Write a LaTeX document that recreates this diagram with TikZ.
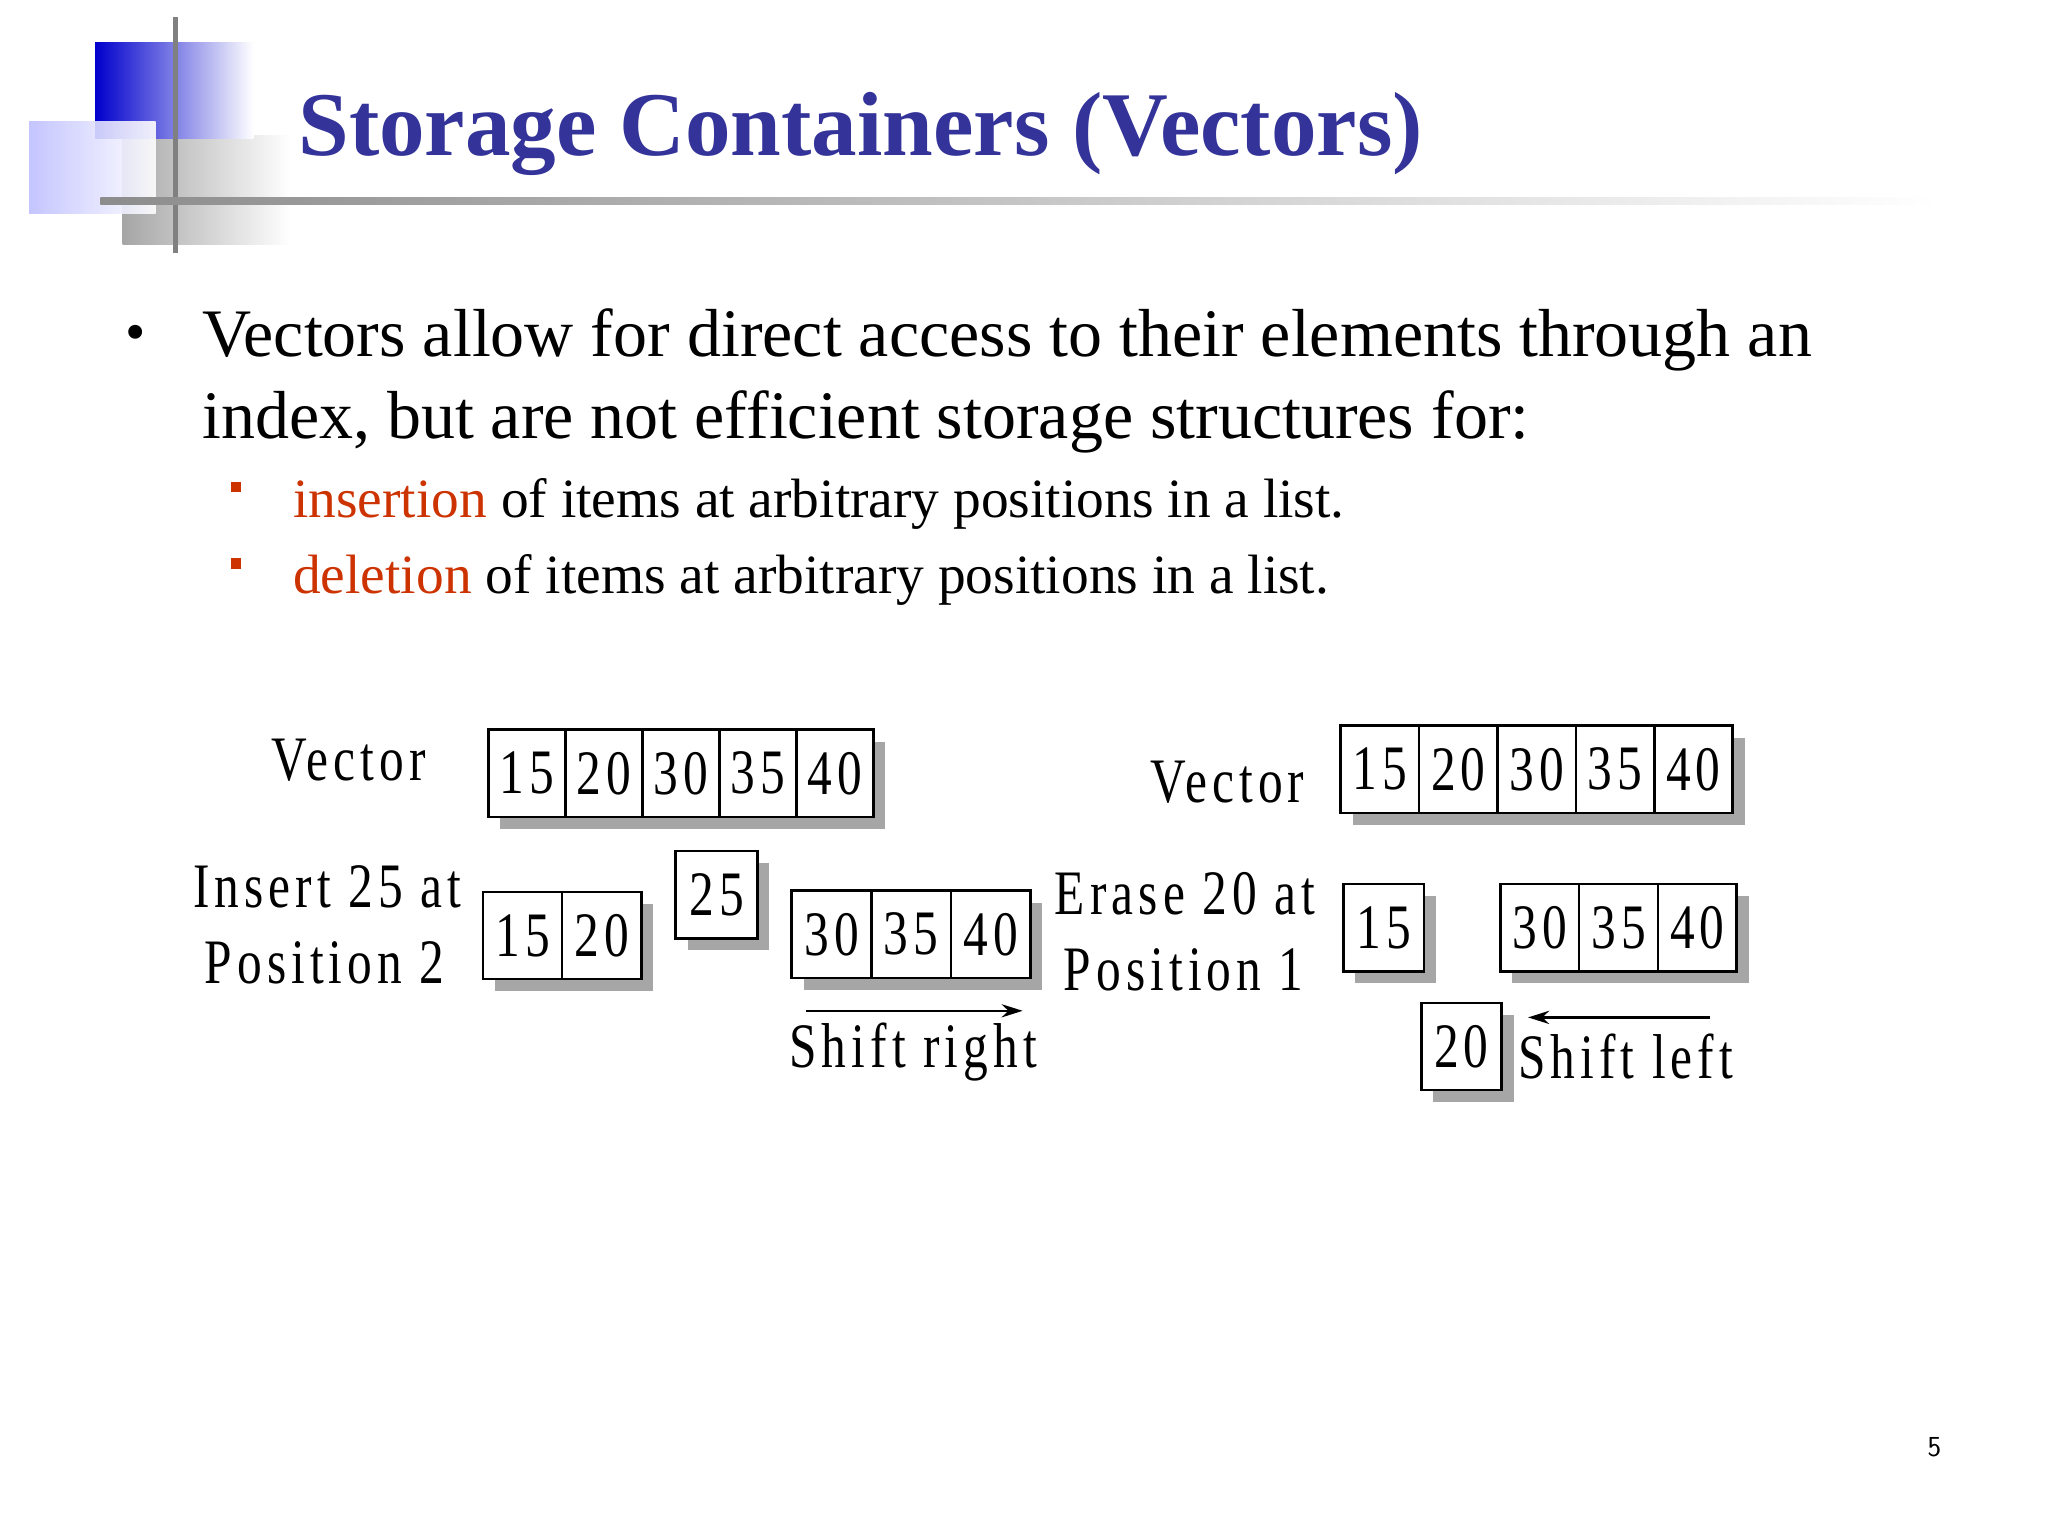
\documentclass[tikz,border=0pt]{standalone}
\usepackage{fontspec}
\setmainfont{Liberation Serif}
\newfontfamily\diag[FakeStretch=0.78,LetterSpace=8]{Liberation Serif}
\usetikzlibrary{arrows.meta}
\definecolor{ttl}{HTML}{333399}
\definecolor{rd}{HTML}{CC3300}
\definecolor{shd}{HTML}{A6A6A6}
\tikzset{
  cellrow/.style={draw=black,line width=2pt,fill=white,minimum height=66pt,inner sep=0pt,anchor=north west},
  dtext/.style={font=\diag\fontsize{48}{56}\selectfont,inner sep=0pt},
  arr/.style={line width=1.8pt,-{Stealth[length=16pt,width=10pt]}}
}
\newcommand{\vrow}[5]{% name, x, y, width(px per cell), list
  \foreach \v [count=\i from 0] in {#5} {
    \fill[shd] (#2+\i*#4+10,#3+10) rectangle ++(#4,66);
  }
  \foreach \v [count=\i from 0] in {#5} {
    \node[cellrow,minimum width=#4 pt,dtext] (#1\i) at (#2+\i*#4,#3) {\v};
  }
}
\begin{document}
\begin{tikzpicture}[x=1pt,y=-1pt]
\useasboundingbox (0,0) rectangle (1552,1164);
\fill[white] (0,0) rectangle (1552,1164);
% decoration
\shade[left color=gray!70,right color=white] (93,103) rectangle (220,185);
\shade[left color=blue!80!black,right color=white] (72,32) rectangle (192,105);
\shade[left color=blue!25,right color=white,opacity=0.9] (22,92) rectangle (118,162);
\draw[gray,line width=4pt] (133,13) -- (133,192);
\shade[left color=gray!90,right color=white] (76,150) rectangle (1470,155);
\node[anchor=base west,inner sep=0pt,text=ttl,font=\bfseries\fontsize{69}{70}\selectfont] (title) at (226,118) {Storage Containers (Vectors)};
% bullets
\node[anchor=base,inner sep=0pt,font=\fontsize{44}{50}\selectfont] (b1) at (103,266) {•};
\node[anchor=base west,inner sep=0pt,font=\fontsize{51.5}{62}\selectfont,align=left] (t1) at (153,332) {Vectors allow for direct access to their elements through an\\index, but are not efficient storage structures for:};
\fill[rd] (175,365) rectangle ++(8,8);
\fill[rd] (175,423) rectangle ++(8,8);
\node[anchor=base west,inner sep=0pt,font=\fontsize{42}{48}\selectfont] (s1) at (222,392) {\textcolor{rd}{insertion} of items at arbitrary positions in a list.};
\node[anchor=base west,inner sep=0pt,font=\fontsize{42}{48}\selectfont] (s2) at (222,450) {\textcolor{rd}{deletion} of items at arbitrary positions in a list.};
% left diagram
\node[dtext] (lv) at (264,576) {Vector};
\node[dtext] (li) at (248,672) {Insert 25 at};
\node[dtext] (lp) at (246,730) {Position 2};
\vrow{la}{369}{552}{58.4}{15,20,30,35,40}
\vrow{lb}{365}{675}{60}{15,20}
\vrow{lc}{511}{644}{62}{25}
\vrow{ld}{599}{674}{60.3}{30,35,40}
\coordinate (sr1) at (611,766); \coordinate (sr2) at (775,766);
\draw[arr] (sr1) -- (sr2);
\node[dtext] (srt) at (692,797) {Shift right};
% right diagram
\node[dtext] (rv) at (930,593) {Vector};
\node[dtext] (re) at (898,677) {Erase 20 at};
\node[dtext] (rp) at (897,735) {Position 1};
\vrow{ra}{1015}{549}{59.4}{15,20,30,35,40}
\vrow{rb}{1017}{669}{61}{15}
\vrow{rc}{1136}{669}{59.7}{30,35,40}
\vrow{rd}{1076}{759}{61}{20}
\coordinate (sl1) at (1296,771); \coordinate (sl2) at (1158,771);
\draw[arr] (sl1) -- (sl2);
\node[dtext] (slt) at (1232,801) {Shift left};
\node[font=\sffamily\fontsize{22}{24}\selectfont,inner sep=0pt] (pg) at (1466,1097) {5};
\end{tikzpicture}
\end{document}
